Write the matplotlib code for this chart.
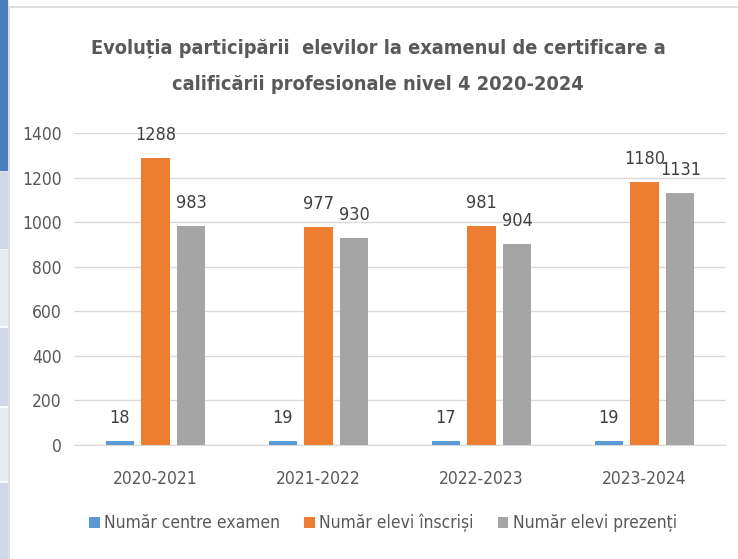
import matplotlib
matplotlib.use("Agg")
import matplotlib.pyplot as plt
from matplotlib.patches import Rectangle
import numpy as np

categories = ["2020-2021", "2021-2022", "2022-2023", "2023-2024"]
centre = [18, 19, 17, 19]
inscrisi = [1288, 977, 981, 1180]
prezenti = [983, 930, 904, 1131]
series_names = ["Număr centre examen", "Număr elevi înscriși", "Număr elevi prezenți"]
colors = ["#5B9BD5", "#ED7D31", "#A5A5A5"]
title_lines = ["Evoluția participării  elevilor la examenul de certificare a",
               "calificării profesionale nivel 4 2020-2024"]

plt.rcParams['font.family'] = ['DejaVu Sans']
plt.rcParams['font.stretch'] = 'condensed'

fig = plt.figure(figsize=(7.38, 5.59), dpi=100)
W, H = 738, 559

# left strip (screenshot artifact)
strip = [(0, 0, 170, "#4A7EBB"), (0, 172, 248, "#D0D8E8"), (0, 250, 325, "#E6EBF4"),
         (0, 328, 405, "#D0D8E8"), (0, 408, 480, "#E6EBF4"), (0, 483, 559, "#D0D8E8")]
for x0, y0, y1, c in strip:
    fig.patches.append(Rectangle((0, 1 - y1 / H), 7 / W, (y1 - y0) / H,
                                 transform=fig.transFigure, color=c, zorder=0))
# chart border
fig.patches.append(Rectangle((8.5 / W, -0.01), 1.0, 1 - 7 / H + 0.01, transform=fig.transFigure,
                             fill=False, edgecolor="#D9D9D9", linewidth=1.2, zorder=0))

ax = fig.add_axes([74 / W, (559 - 445) / H, 652 / W, 312 / H])
x = np.arange(len(categories))
width = 0.172
step = 0.22
for i, (vals, c) in enumerate(zip([centre, inscrisi, prezenti], colors)):
    pos = x + (i - 1) * step
    bars = ax.bar(pos, vals, width, color=c, label=series_names[i], zorder=3)
    for b, v in zip(bars, vals):
        ax.annotate(str(v), (b.get_x() + b.get_width() / 2, v), xytext=(0, 10),
                    textcoords="offset points", ha="center", va="bottom",
                    fontsize=13, color="#404040")

ax.set_xlim(-0.5, 3.5)
ax.set_ylim(0, 1400)
ax.set_yticks(range(0, 1401, 200))
ax.set_xticks(x)
ax.set_xticklabels(categories)
ax.tick_params(axis='both', length=0, labelsize=12.5, labelcolor="#595959")
ax.tick_params(axis='y', pad=9)
ax.tick_params(axis='x', pad=18)
ax.grid(axis='y', color="#D9D9D9", linewidth=1, zorder=0)
for s in ["top", "right", "left"]:
    ax.spines[s].set_visible(False)
ax.spines["bottom"].set_color("#D9D9D9")

for line, yc in zip(title_lines, [48, 85]):
    fig.text(378 / W, 1 - yc / H, line, ha="center", va="center", fontsize=14.3,
             fontweight="bold", color="#595959")

fig.legend(loc="center", bbox_to_anchor=(383 / W, 1 - 523 / H), ncol=3, frameon=False,
           fontsize=12.5, labelcolor="#595959", handlelength=0.6, handleheight=0.6,
           handletextpad=0.25, columnspacing=1.4)

fig.savefig("out.png", dpi=100)
